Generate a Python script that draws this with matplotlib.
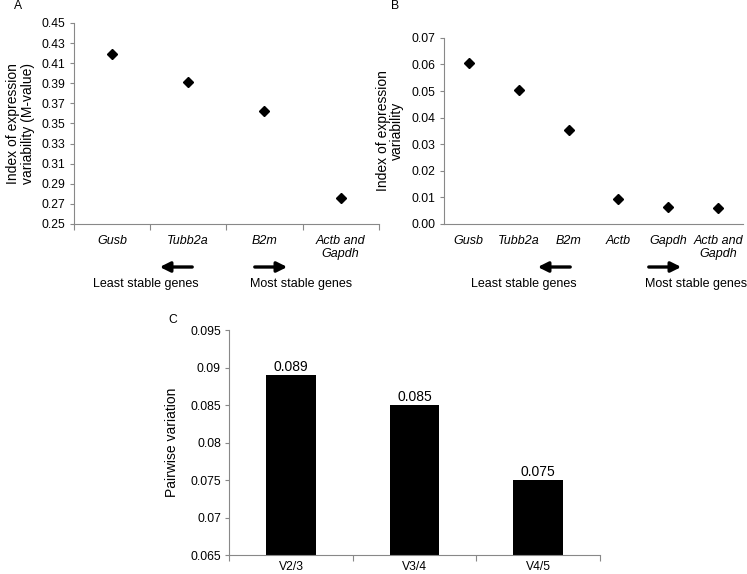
import matplotlib
matplotlib.use('Agg')
import matplotlib.pyplot as plt
import numpy as np

plt.rcParams['font.family'] = ['Liberation Sans', 'DejaVu Sans']

# panel A: geNorm M-values
genes_a = ['Gusb', 'Tubb2a', 'B2m', 'Actb and\nGapdh']
m_values = [0.419, 0.391, 0.362, 0.276]

# panel B: NormFinder stability
genes_b = ['Gusb', 'Tubb2a', 'B2m', 'Actb', 'Gapdh', 'Actb and\nGapdh']
stab_values = [0.0605, 0.0503, 0.0355, 0.0095, 0.0063, 0.0060]

# panel C: pairwise variation
pairs = ['V2/3', 'V3/4', 'V4/5']
pair_values = [0.089, 0.085, 0.075]

fs_tick = 8.7
fs_cat = 9
fs_lab = 10
spine_col = '#888888'

fig = plt.figure(figsize=(7.47, 5.74), dpi=100)

def style_axes(ax):
    for s in ['top', 'right']:
        ax.spines[s].set_visible(False)
    for s in ['left', 'bottom']:
        ax.spines[s].set_color(spine_col)
        ax.spines[s].set_linewidth(0.8)
    ax.tick_params(axis='y', colors=spine_col, labelcolor='black', labelsize=fs_tick,
                   length=3, width=0.8, pad=3)

def cat_axis(ax, labels, ticks=True):
    n = len(labels)
    ax.set_xlim(-0.5, n - 0.5)
    ax.set_xticks(np.arange(n + 1) - 0.5)
    ax.set_xticklabels([])
    ax.set_xticks(np.arange(n), minor=True)
    ax.set_xticklabels(labels, minor=True, fontsize=fs_cat, style='italic')
    ax.tick_params(axis='x', which='major', length=4 if ticks else 0,
                   width=0.8, colors=spine_col)
    ax.tick_params(axis='x', which='minor', length=0, pad=8, labelcolor='black')
    for lab in ax.get_xticklabels(minor=True):
        lab.set_linespacing(1.1)

# ---- A
axA = fig.add_axes([0.099, 0.610, 0.408, 0.350])
style_axes(axA)
axA.plot(np.arange(len(genes_a)), m_values, 'kD', markersize=5, linestyle='none')
axA.set_ylim(0.25, 0.45)
axA.set_yticks(np.arange(0.25, 0.4501, 0.02))
axA.set_yticklabels(['{:.2f}'.format(v) for v in np.arange(0.25, 0.4501, 0.02)])
cat_axis(axA, genes_a)
axA.set_ylabel('Index of expression\nvariability (M-value)', fontsize=fs_lab,
               labelpad=5, linespacing=1.05)
fig.text(14 / 747, 1 - 6 / 574, 'A', fontsize=fs_tick, va='center')

# ---- B
axB = fig.add_axes([0.594, 0.610, 0.401, 0.324])
style_axes(axB)
axB.plot(np.arange(len(genes_b)), stab_values, 'kD', markersize=5, linestyle='none')
axB.set_ylim(0, 0.07)
axB.set_yticks(np.arange(0, 0.0701, 0.01))
axB.set_yticklabels(['{:.2f}'.format(v) for v in np.arange(0, 0.0701, 0.01)])
cat_axis(axB, genes_b, ticks=False)
axB.set_ylabel('Index of expression\nvariability', fontsize=fs_lab,
               labelpad=5, linespacing=1.05)
fig.text(391 / 747, 1 - 6 / 574, 'B', fontsize=fs_tick, va='center')

# arrows and captions under A and B
def arrow(x0, x1, y):
    fig.add_artist(matplotlib.patches.FancyArrowPatch(
        (x0, y), (x1, y), transform=fig.transFigure, arrowstyle='-|>',
        mutation_scale=15, linewidth=2.4, color='black'))

ya = 1 - 267 / 574
yt = 1 - 284 / 574
arrow(195 / 747, 157 / 747, ya)
arrow(252 / 747, 290 / 747, ya)
arrow(573 / 747, 535 / 747, ya)
arrow(646 / 747, 684 / 747, ya)
fig.text(146 / 747, yt, 'Least stable genes', fontsize=fs_cat, ha='center', va='center')
fig.text(301 / 747, yt, 'Most stable genes', fontsize=fs_cat, ha='center', va='center')
fig.text(524 / 747, yt, 'Least stable genes', fontsize=fs_cat, ha='center', va='center')
fig.text(696 / 747, yt, 'Most stable genes', fontsize=fs_cat, ha='center', va='center')

# ---- C
axC = fig.add_axes([0.307, 0.033, 0.496, 0.392])
style_axes(axC)
xc = np.arange(len(pairs))
bars = axC.bar(xc, pair_values, width=0.4, color='black')
axC.set_ylim(0.065, 0.095)
yt_c = [0.065, 0.07, 0.075, 0.08, 0.085, 0.09, 0.095]
axC.set_yticks(yt_c)
axC.set_yticklabels([('%g' % v) for v in yt_c])
cat_axis(axC, pairs)
axC.tick_params(axis='x', which='minor', pad=4)
for lab in axC.get_xticklabels(minor=True):
    lab.set_style('normal')
    lab.set_fontsize(fs_tick)
for b, v in zip(bars, pair_values):
    axC.text(b.get_x() + b.get_width() / 2, v + 0.0001, '{:.3f}'.format(v),
             ha='center', va='bottom', fontsize=fs_lab)
axC.set_ylabel('Pairwise variation', fontsize=fs_lab, labelpad=8)
fig.text(168 / 747, 1 - 320 / 574, 'C', fontsize=fs_tick, va='center')

fig.savefig('out.png', dpi=100)
